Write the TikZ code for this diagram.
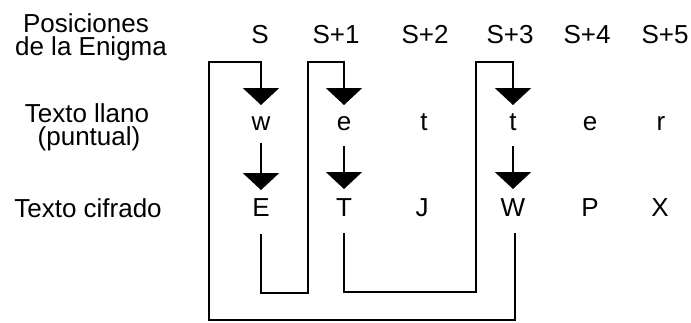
\documentclass[tikz,border=0pt]{standalone}
\usepackage{fontspec}
\setmainfont{Liberation Sans}
\usetikzlibrary{arrows.meta,calc}
\begin{document}
\begin{tikzpicture}[x=1bp,y=-1bp,
  lbl/.style={font=\fontsize{26bp}{23bp}\selectfont, inner sep=0pt, anchor=base},
  wire/.style={line width=2.4bp, line join=miter},
  feed/.style={wire, -{Triangle[width=36bp,length=17bp]}},
]
\useasboundingbox (0,0) rectangle (691,322);

% row captions, one node per line
\node[lbl] (cap-pos-a)   at (86,32)  {Posiciones};
\node[lbl] (cap-pos-b)   at (91,55)  {de la Enigma};
\node[lbl] (cap-plain-a) at (87,122) {Texto llano};
\node[lbl] (cap-plain-b) at (89,145) {(puntual)};
\node[lbl] (cap-ciph)    at (88,217) {Texto cifrado};

% machine positions
\node[lbl] (p0) at (260,43) {S};
\node[lbl] (p1) at (336,43) {S+1};
\node[lbl] (p2) at (425,43) {S+2};
\node[lbl] (p3) at (510,43) {S+3};
\node[lbl] (p4) at (587,43) {S+4};
\node[lbl] (p5) at (665,43) {S+5};

% plaintext (crib)
\node[lbl] (w)  at (261,130) {w};
\node[lbl] (e1) at (344,130) {e};
\node[lbl] (t1) at (424,130) {t};
\node[lbl] (t2) at (513,130) {t};
\node[lbl] (e2) at (590,130) {e};
\node[lbl] (r)  at (661,130) {r};

% ciphertext
\node[lbl] (E) at (261,216) {E};
\node[lbl] (T) at (344,216) {T};
\node[lbl] (J) at (422,216) {J};
\node[lbl] (W) at (513,216) {W};
\node[lbl] (P) at (590,216) {P};
\node[lbl] (X) at (660,216) {X};

% encipherment steps
\draw[feed] ($(w.base)+(0,13)$)  -- ($(E.base)+(0,-26)$);
\draw[feed] ($(e1.base)+(0,16)$) -- ($(T.base)+(0,-27)$);
\draw[feed] ($(t2.base)+(0,16)$) -- ($(W.base)+(0,-27)$);

% ciphertext letters fed back as plaintext
\coordinate (ret1) at (209,320);
\coordinate (ret2) at (308,293);
\coordinate (ret3) at (476,292);

\draw[feed] ($(W.base)+(2,17)$) |- (ret1) |- ($(w.base)+(0,-68)$) -- ($(w.base)+(0,-25)$);
\draw[feed] ($(E.base)+(0,18)$) |- (ret2) |- ($(e1.base)+(0,-68)$) -- ($(e1.base)+(0,-25)$);
\draw[feed] ($(T.base)+(0,17)$) |- (ret3) |- ($(t2.base)+(0,-68)$) -- ($(t2.base)+(0,-25)$);
\end{tikzpicture}
\end{document}
